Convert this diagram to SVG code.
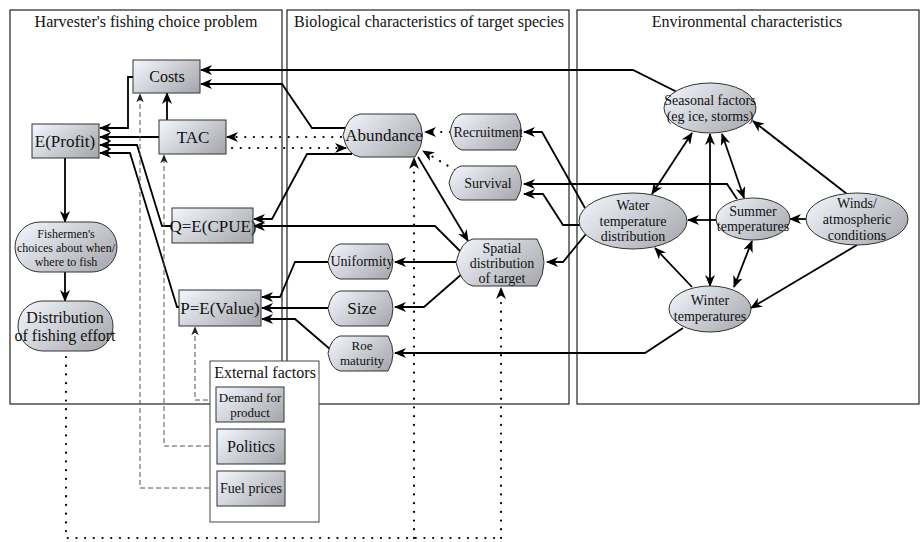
<svg xmlns="http://www.w3.org/2000/svg" width="920" height="542" viewBox="0 0 920 542" font-family="'Liberation Serif', 'DejaVu Serif', serif">
<defs>
<linearGradient id="g" x1="0" y1="0.2" x2="1" y2="0.8">
<stop offset="0" stop-color="#eef1f8"/>
<stop offset="1" stop-color="#a9abb0"/>
</linearGradient>
<marker id="a" viewBox="0 0 12 10" markerWidth="12" markerHeight="10" refX="11" refY="5" orient="auto-start-reverse" markerUnits="userSpaceOnUse">
<path d="M0,0 L12,5 L0,10 L3.5,5 Z" fill="#000"/>
</marker>
<marker id="s" viewBox="0 0 12 10" markerWidth="9" markerHeight="8" refX="11" refY="5" orient="auto" markerUnits="userSpaceOnUse">
<path d="M0,0 L12,5 L0,10 L3.5,5 Z" fill="#222"/>
</marker>
</defs>
<style>
text{font-family:'Liberation Serif','DejaVu Serif',serif;fill:#111;text-anchor:middle}
.panel{fill:none;stroke:#222;stroke-width:1.2}
.node{fill:url(#g);stroke:#333;stroke-width:1}
.c{fill:none;stroke:#000;stroke-width:1.8;marker-end:url(#a)}
.b{marker-start:url(#a)}
.d{fill:none;stroke:#000;stroke-width:2.2;stroke-linecap:round;stroke-dasharray:0.1 8.6}
.da{marker-end:url(#a)}
.k{fill:none;stroke:#555;stroke-width:1;stroke-dasharray:5 3;marker-end:url(#s)}
.t16{font-size:16px}.t17{font-size:17px}.t14{font-size:14px}.t13{font-size:13px}.t12{font-size:12px}
</style>
<rect width="920" height="542" fill="#fff"/>
<g id="panels">
<rect class="panel" x="10" y="10" width="272" height="394"/>
<rect class="panel" x="287" y="10" width="282" height="394"/>
<rect class="panel" x="577" y="10" width="342" height="394"/>
<text class="t16" x="146" y="27">Harvester's fishing choice problem</text>
<text class="t16" x="429" y="27">Biological characteristics of target species</text>
<text class="t16" x="747" y="27">Environmental characteristics</text>
</g>
<g id="connectors">
<path class="c" d="M133,77 H128 V128 H100"/>
<path class="c" d="M159,137 H100"/>
<path class="c" d="M172,226 H162 L137,145 H100"/>
<path class="c" d="M179,307 H177 L130,153 H100"/>
<path class="c" d="M65,158 V222"/>
<path class="c" d="M65,272 V301"/>
<path class="c" d="M167,120 V93"/>
<path class="c" d="M348,128 H312 L282,84 H201"/>
<path class="c" d="M677,92 L633,70 H201"/>
<path class="c" d="M352,154 H307 L272,219 H254"/>
<path class="c" d="M461,252 L435,226 H254"/>
<path class="c" d="M418,157 L468,241"/>
<path class="c" d="M457,262 H395"/>
<path class="c" d="M463,273 L424,307 H395"/>
<path class="c" d="M328,262 H295 L280,297 H262"/>
<path class="c" d="M328,308 H262"/>
<path class="c" d="M331,350 L295,319 H262"/>
<path class="c" d="M585,208 L542,132 H524"/>
<path class="c" d="M737,199 L727,184 H524"/>
<path class="c" d="M580,225 H563 L543,194 H524"/>
<path class="c" d="M586,234 L563,262 H547"/>
<path class="c" d="M683,328 L645,353 H395"/>
<path class="c b" d="M692,133 L652,194"/>
<path class="c b" d="M710,134 V286"/>
<path class="c b" d="M722,134 L744,198"/>
<path class="c" d="M847,194 L753,121"/>
<path class="c" d="M806,219 H790"/>
<path class="c" d="M717,220 H688"/>
<path class="c b" d="M752,241 L734,287"/>
<path class="c" d="M692,287 L655,248"/>
<path class="c" d="M857,245 L751,308"/>
<path class="d da" d="M341,137 H227"/>
<path class="d da" d="M232,148 H346"/>
<path class="d da" d="M450,132 H425"/>
<path class="d da" d="M455,170 L423,151"/>
<path class="d" d="M66,357 V538 H501"/>
<path class="d da" d="M501,538 V288"/>
<path class="d da" d="M414,538 V158"/>
<path class="k" d="M217,488 H140 V94"/>
<path class="k" d="M217,446 H164 V155"/>
<path class="k" d="M216,400 H195 V327"/>
</g>
<g id="costs"><rect class="node" x="133" y="60" width="67" height="33"/><text class="t16" x="167" y="82">Costs</text></g>
<g id="tac"><rect class="node" x="159" y="120" width="67" height="34"/><text class="t17" x="193" y="143">TAC</text></g>
<g id="eprofit"><rect class="node" x="32" y="124" width="67" height="34"/><text class="t17" x="65" y="147">E(Profit)</text></g>
<g id="qcpue"><rect class="node" x="172" y="208" width="81" height="35"/><text class="t17" x="213" y="232">Q=E(CPUE)</text></g>
<g id="pvalue"><rect class="node" x="179" y="290" width="82" height="36"/><text class="t17" x="220" y="314">P=E(Value)</text></g>
<g id="fishermen"><rect class="node" x="15" y="222" width="102" height="50" rx="25" ry="25"/><text class="t12" x="66" y="238">Fishermen's</text><text class="t12" x="66" y="252">choices about when/</text><text class="t12" x="66" y="266">where to fish</text></g>
<g id="effort"><rect class="node" x="18" y="301" width="95" height="50" rx="25" ry="25"/><text class="t16" x="65" y="323">Distribution</text><text class="t16" x="65" y="341">of fishing effort</text></g>
<g id="abundance"><path class="node" d="M343,135.5 Q347,116 360,114 H415 Q430,135.5 415,157 H360 Q347,155 343,135.5 Z"/><text class="t17" x="384" y="141">Abundance</text></g>
<g id="recruitment"><path class="node" d="M450,132 Q453,116 462,114 H516 Q527,132 516,150 H462 Q453,148 450,132 Z"/><text class="t14" x="488" y="137">Recruitment</text></g>
<g id="survival"><path class="node" d="M449,183 Q452,168 461,166 H516 Q527,183 516,200 H461 Q452,198 449,183 Z"/><text class="t14" x="488" y="188">Survival</text></g>
<g id="spatial"><path class="node" d="M456,262.5 Q461,241 473,239 H537 Q551,262.5 537,286 H473 Q461,284 456,262.5 Z"/><text class="t14" x="502" y="253">Spatial</text><text class="t14" x="502" y="268">distribution</text><text class="t14" x="502" y="283">of target</text></g>
<g id="uniformity"><path class="node" d="M328,261.5 Q331,246 340,244 H388 Q398,261.5 388,279 H340 Q331,277 328,261.5 Z"/><text class="t14" x="362" y="266">Uniformity</text></g>
<g id="size"><path class="node" d="M328,308.5 Q331,293 340,291 H388 Q398,308.5 388,326 H340 Q331,324 328,308.5 Z"/><text class="t17" x="362" y="314">Size</text></g>
<g id="roe"><path class="node" d="M328,353.5 Q331,338 340,336 H388 Q398,353.5 388,371 H340 Q331,369 328,353.5 Z"/><text class="t13" x="362" y="350">Roe</text><text class="t13" x="362" y="365">maturity</text></g>
<g id="seasonal"><ellipse class="node" cx="710" cy="108" rx="46" ry="25"/><text class="t14" x="710" y="105">Seasonal factors</text><text class="t14" x="710" y="121">(eg ice, storms)</text></g>
<g id="water"><ellipse class="node" cx="633" cy="221" rx="54" ry="28"/><text class="t14" x="633" y="210">Water</text><text class="t14" x="633" y="226">temperature</text><text class="t14" x="633" y="241">distribution</text></g>
<g id="summer"><ellipse class="node" cx="753" cy="219" rx="37" ry="21"/><text class="t14" x="753" y="216">Summer</text><text class="t14" x="753" y="231">temperatures</text></g>
<g id="winds"><ellipse class="node" cx="857" cy="219" rx="51" ry="26"/><text class="t14" x="857" y="208">Winds/</text><text class="t14" x="857" y="224">atmospheric</text><text class="t14" x="857" y="240">conditions</text></g>
<g id="winter"><ellipse class="node" cx="710" cy="309" rx="41" ry="23"/><text class="t14" x="710" y="305">Winter</text><text class="t14" x="710" y="321">temperatures</text></g>
<g id="external">
<rect x="210" y="361" width="109" height="161" fill="#fff" stroke="#444" stroke-width="1"/>
<text class="t16" x="265" y="378">External factors</text>
<g id="demand"><rect class="node" x="216" y="387" width="68" height="35"/><text class="t13" x="250" y="402">Demand for</text><text class="t13" x="250" y="417">product</text></g>
<g id="politics"><rect class="node" x="217" y="429" width="68" height="35"/><text class="t16" x="251" y="452">Politics</text></g>
<g id="fuel"><rect class="node" x="217" y="471" width="68" height="35"/><text class="t14" x="251" y="493">Fuel prices</text></g>
</g>
</svg>
